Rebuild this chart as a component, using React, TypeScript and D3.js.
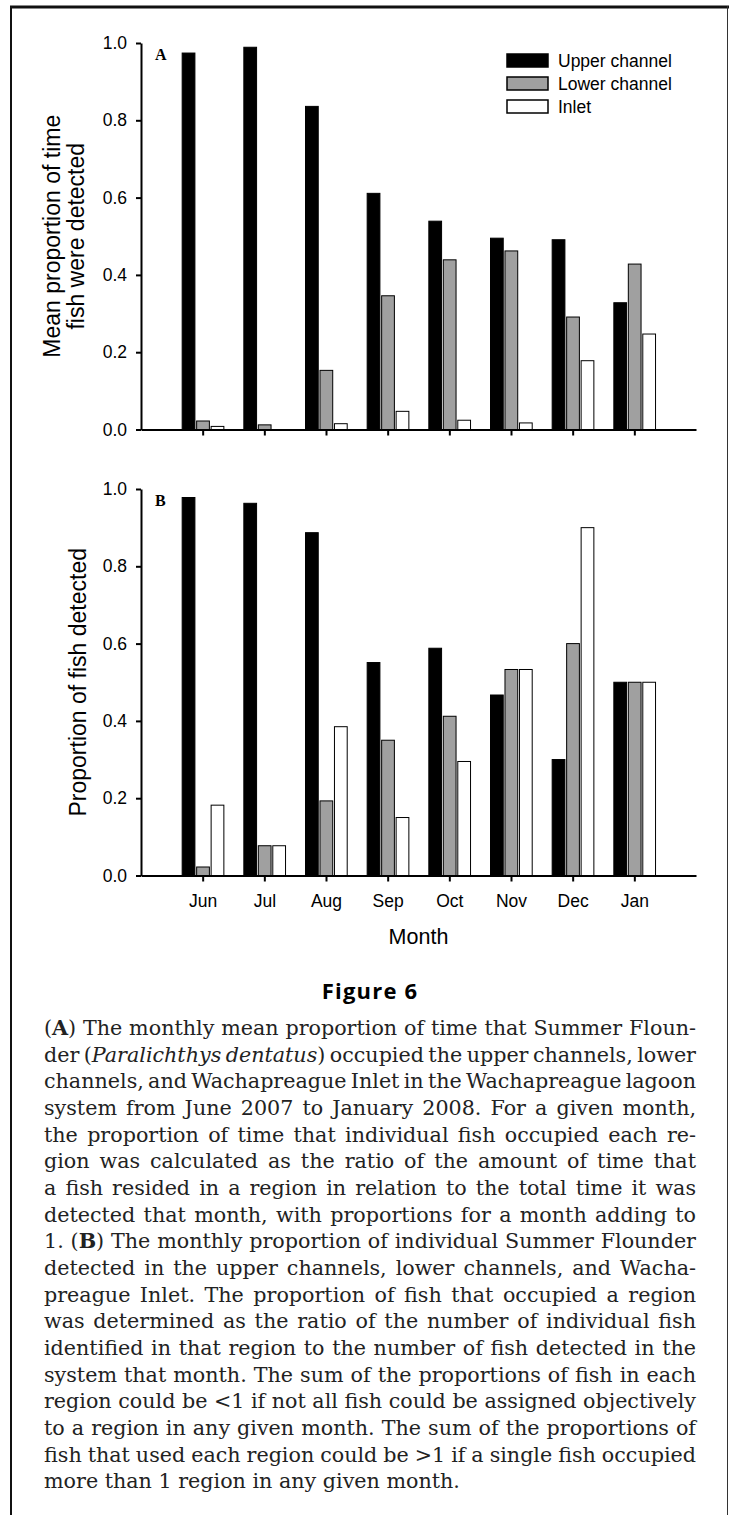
import React from "react";
import * as d3 from "d3";

// months on the x axis
const months = ["Jun", "Jul", "Aug", "Sep", "Oct", "Nov", "Dec", "Jan"];
const regions = ["Upper channel", "Lower channel", "Inlet"];
const regionFill = ["#000000", "#a0a0a0", "#ffffff"];

// panel A: mean proportion of time fish were detected
const upperA = [0.974, 0.989, 0.836, 0.611, 0.539, 0.495, 0.491, 0.328];
const lowerA = [0.022, 0.012, 0.153, 0.346, 0.439, 0.462, 0.291, 0.428];
const inletA = [0.008, 0, 0.015, 0.047, 0.024, 0.017, 0.178, 0.247];

// panel B: proportion of fish detected
const upperB = [0.978, 0.963, 0.887, 0.551, 0.588, 0.467, 0.3, 0.5];
const lowerB = [0.022, 0.077, 0.193, 0.35, 0.412, 0.533, 0.6, 0.5];
const inletB = [0.182, 0.077, 0.385, 0.15, 0.295, 0.533, 0.9, 0.5];

const yTicks = [0, 0.2, 0.4, 0.6, 0.8, 1.0];

const captionLines = [
  "(**A**) The monthly mean proportion of time that Summer Floun-",
  "der (*Paralichthys dentatus*) occupied the upper channels, lower",
  "channels, and Wachapreague Inlet in the Wachapreague lagoon",
  "system from June 2007 to January 2008. For a given month,",
  "the proportion of time that individual fish occupied each re-",
  "gion was calculated as the ratio of the amount of time that",
  "a fish resided in a region in relation to the total time it was",
  "detected that month, with proportions for a month adding to",
  "1. (**B**) The monthly proportion of individual Summer Flounder",
  "detected in the upper channels, lower channels, and Wacha-",
  "preague Inlet. The proportion of fish that occupied a region",
  "was determined as the ratio of the number of individual fish",
  "identified in that region to the number of fish detected in the",
  "system that month. The sum of the proportions of fish in each",
  "region could be <1 if not all fish could be assigned objectively",
  "to a region in any given month. The sum of the proportions of",
  "fish that used each region could be >1 if a single fish occupied",
  "more than 1 region in any given month.",
];

const SANS = "'Liberation Sans', Arial, sans-serif";
const SERIF = "'DejaVu Serif', serif";

const App = () => {
  const ref = React.useRef<SVGSVGElement>(null);

  React.useEffect(() => {
    const width = 729;
    const height = 1515;
    const svg = d3.select(ref.current);
    svg.selectAll("*").remove();

    // frame
    svg.append("line").attr("x1", 10).attr("x2", 729).attr("y1", 7).attr("y2", 7)
      .attr("stroke", "#111").attr("stroke-width", 3);
    svg.append("line").attr("x1", 11).attr("x2", 11).attr("y1", 6).attr("y2", height)
      .attr("stroke", "#111").attr("stroke-width", 2);
    svg.append("line").attr("x1", 727.5).attr("x2", 727.5).attr("y1", 6).attr("y2", height)
      .attr("stroke", "#333").attr("stroke-width", 1);

    const x = d3.scalePoint().domain(months).range([141, 696]).padding(1);
    const xs = d3.scaleBand().domain(regions).range([-20.5, 21.2]).paddingInner(0.12);

    const panels = [
      { key: "A", top: 43, bottom: 429.5, series: [upperA, lowerA, inletA],
        title: ["Mean proportion of time", "fish were detected"], labels: false },
      { key: "B", top: 489, bottom: 875.5, series: [upperB, lowerB, inletB],
        title: ["Proportion of fish detected"], labels: true },
    ];

    panels.forEach((p) => {
      const y = d3.scaleLinear().domain([0, 1]).range([p.bottom, p.top]);
      const g = svg.append("g");

      // bars
      p.series.forEach((vals, j) => {
        g.append("g").selectAll("rect")
          .data(vals)
          .join("rect")
          .attr("x", (d, i) => x(months[i])! + xs(regions[j])!)
          .attr("y", (d) => y(d))
          .attr("width", xs.bandwidth())
          .attr("height", (d) => y(0) - y(d))
          .attr("fill", regionFill[j])
          .attr("stroke", "#000")
          .attr("stroke-width", 1);
      });

      // axes
      const yAxis = d3.axisLeft(y).tickValues(yTicks).tickFormat(d3.format(".1f"))
        .tickSize(5).tickSizeOuter(0).tickPadding(9);
      const ya = g.append("g").attr("transform", "translate(141,0)").call(yAxis);
      const xAxis = d3.axisBottom(x).tickSize(6).tickSizeOuter(0).tickPadding(13);
      if (!p.labels) xAxis.tickFormat(() => "");
      const xa = g.append("g").attr("transform", `translate(0,${p.bottom})`).call(xAxis);
      [ya, xa].forEach((a) => {
        a.select(".domain").attr("stroke", "#000").attr("stroke-width", 2);
        a.selectAll(".tick line").attr("stroke", "#000").attr("stroke-width", 2);
        a.selectAll(".tick text").attr("fill", "#000").attr("font-family", SANS).attr("font-size", 17.5);
      });

      // panel letter
      g.append("text").attr("x", 155).attr("y", p.top + 17)
        .attr("font-family", "'Liberation Serif', 'Times New Roman', serif")
        .attr("font-weight", "bold").attr("font-size", 16).text(p.key);

      // y title
      const mid = (p.top + p.bottom) / 2;
      const baseX = p.title.length > 1 ? 60 : 86;
      p.title.forEach((t, k) => {
        g.append("text")
          .attr("transform", `translate(${baseX + k * 24},${mid}) rotate(-90)`)
          .attr("text-anchor", "middle")
          .attr("font-family", SANS).attr("font-size", 23)
          .text(t);
      });

      // legend only in panel A
      if (!p.labels) {
        regions.forEach((r, j) => {
          const ry = 54 + j * 23;
          g.append("rect").attr("x", 507).attr("y", ry).attr("width", 41).attr("height", 13)
            .attr("fill", regionFill[j]).attr("stroke", "#000").attr("stroke-width", 1.5);
          g.append("text").attr("x", 558).attr("y", ry + 13)
            .attr("font-family", SANS).attr("font-size", 17.5).text(r);
        });
      }
    });

    svg.append("text").attr("x", 418.5).attr("y", 944).attr("text-anchor", "middle")
      .attr("font-family", SANS).attr("font-size", 21.5).text("Month");

    svg.append("text").attr("x", 370).attr("y", 999).attr("text-anchor", "middle")
      .attr("font-family", "'Open Sans', sans-serif").attr("font-weight", "bold")
      .attr("font-size", 22).attr("letter-spacing", 1.2).text("Figure 6");

    // caption, justified word by word
    const left = 44;
    const W = 652;
    const lineGap = 26.66;
    const parsed = (() => {
      let bold = false;
      let ital = false;
      return captionLines.map((line) =>
        line.split(" ").map((w) => {
          const segs: { t: string; b: boolean; i: boolean }[] = [];
          w.split(/(\*\*|\*)/).forEach((part) => {
            if (part === "**") bold = !bold;
            else if (part === "*") ital = !ital;
            else if (part) segs.push({ t: part, b: bold, i: ital });
          });
          return segs;
        })
      );
    })();

    const cap = svg.append("g").attr("font-family", SERIF).attr("fill", "#222");
    // size the font so the last (unjustified) line matches the reference width
    let fs = 20;
    const probe = cap.append("text").attr("font-size", fs).text(captionLines[captionLines.length - 1]);
    const pw = (probe.node() as SVGTextElement).getComputedTextLength();
    probe.remove();
    if (pw > 0) fs = fs * 416 / pw;
    cap.attr("font-size", fs);

    parsed.forEach((words, i) => {
      const lg = cap.append("g");
      const texts = words.map((segs) => {
        const t = lg.append("text");
        segs.forEach((s) => {
          t.append("tspan")
            .attr("font-weight", s.b ? "bold" : null)
            .attr("font-style", s.i ? "italic" : null)
            .text(s.t);
        });
        return t;
      });
      const widths = texts.map((t) => (t.node() as SVGTextElement).getComputedTextLength());
      const sum = d3.sum(widths);
      const space = fs * 0.318;
      const justify = i < parsed.length - 1;
      let gap = space;
      let sx = 1;
      if (justify) {
        gap = (W - sum) / (words.length - 1);
        if (gap < space * 0.55) {
          gap = space * 0.55;
          sx = W / (sum + gap * (words.length - 1));
        }
      }
      let cx = 0;
      texts.forEach((t, k) => {
        t.attr("x", cx);
        cx += widths[k] + gap;
      });
      lg.attr("transform", `translate(${left},${1035 + i * lineGap}) scale(${sx},1)`);
    });

    svg.attr("width", width).attr("height", height);
  }, []);

  return (
    <svg
      ref={ref}
      width={729}
      height={1515}
      style={{ position: "absolute", left: 0, top: 0, background: "#fff" }}
    />
  );
};

export default App;
